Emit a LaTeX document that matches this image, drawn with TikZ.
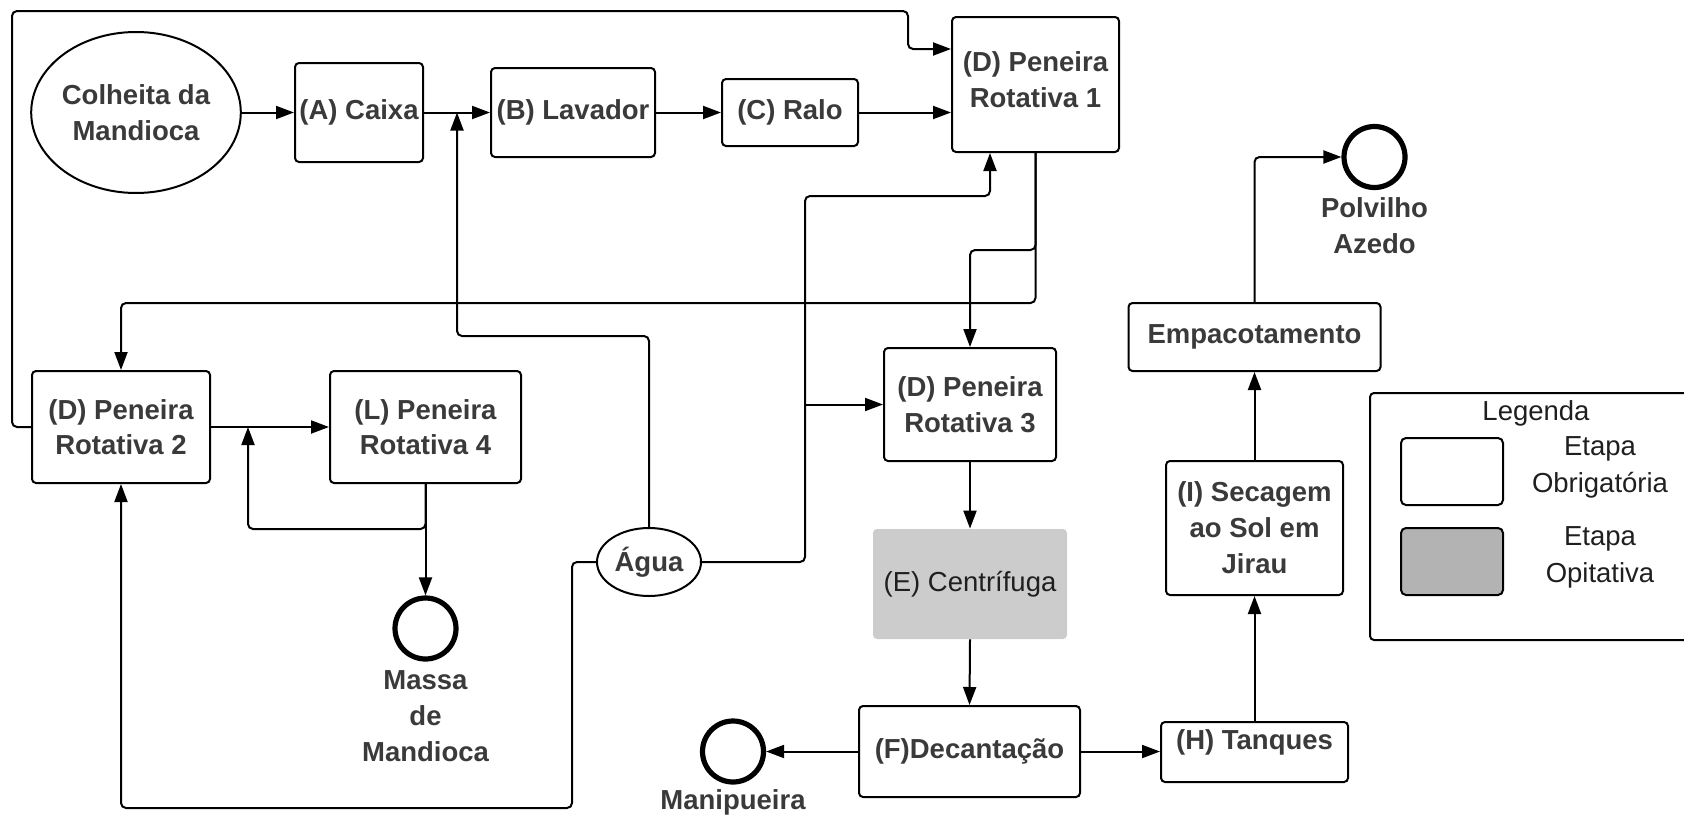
\documentclass[tikz,border=0pt]{standalone}
\usepackage{fontspec}
\setmainfont{Liberation Sans}
\usetikzlibrary{arrows.meta,shapes.geometric}
\definecolor{txt}{RGB}{58,58,58}
\definecolor{optfill}{RGB}{204,204,204}
\definecolor{leggray}{RGB}{179,179,179}
\begin{document}
\begin{tikzpicture}[x=0.5pt,y=-0.5pt,
  lbl/.style={font=\fontsize{13.75}{17.75}\selectfont\bfseries, text=txt, align=center, inner sep=0pt},
  reg/.style={font=\fontsize{13.75}{18.5}\selectfont, text=black!88, align=center, inner sep=0pt},
  stepbox/.style={draw=black, line width=1pt, rounded corners=2pt, fill=white, lbl},
  oval/.style={ellipse, draw=black, line width=1pt, fill=white, lbl},
  endc/.style={circle, draw=black, line width=2.6pt, minimum size=30.5pt, inner sep=0pt},
  flow/.style={draw=black, line width=1pt, rounded corners=2.5pt, -{Triangle[length=9pt,width=6.5pt]}},
]
\useasboundingbox (0,0) rectangle (1684,819);
\clip (0,0) rectangle (1684,819);

% ---- nodes ----
\node[oval, minimum width=104pt, minimum height=80.5pt] (colheita) at (136,112.5) {Colheita da\\Mandioca};
\node[stepbox, minimum width=64pt, minimum height=49.5pt] (caixa) at (359,112.5) {(A) Caixa};
\node[stepbox, minimum width=82pt, minimum height=44.5pt] (lavador) at (573,112.5) {(B) Lavador};
\node[stepbox, minimum width=68pt, minimum height=33.5pt] (ralo) at (790,112.5) {(C) Ralo};
\node[stepbox, minimum width=83.5pt, minimum height=67.5pt] (d1) at (1035.5,84.5) {};
\node[lbl] (d1t) at (1035.5,79.5) {(D) Peneira\\Rotativa 1};

\node[stepbox, minimum width=89pt, minimum height=56pt] (d2) at (121,427) {(D) Peneira\\Rotativa 2};
\node[stepbox, minimum width=95.5pt, minimum height=56pt] (l4) at (425.5,427) {(L) Peneira\\Rotativa 4};
\node[endc] (massa) at (425.5,628.5) {};
\node[lbl, font=\fontsize{13.75}{18}\selectfont\bfseries] (massat) at (425.5,716) {Massa\\de\\Mandioca};

\node[oval, minimum width=52pt, minimum height=34pt, inner sep=0pt] (agua) at (649,562) {Água};

\node[stepbox, minimum width=86pt, minimum height=56.5pt] (d3) at (970,404.5) {(D) Peneira\\Rotativa 3};
\node[rounded corners=2pt, fill=optfill, minimum width=97pt, minimum height=55pt, reg] (e) at (970,584) {(E) Centrífuga};
\node[stepbox, minimum width=110.5pt, minimum height=45.5pt] (f) at (969.5,751.5) {(F)Decantação};
\node[endc] (manip) at (733,751.5) {};
\node[lbl] (manipt) at (733,802) {Manipueira};

\node[stepbox, minimum width=93.5pt, minimum height=30pt] (h) at (1254.5,752) {};
\node[lbl] (ht) at (1254.5,742) {(H) Tanques};
\node[stepbox, minimum width=88.5pt, minimum height=67pt, font=\fontsize{13.75}{18}\selectfont\bfseries] (i) at (1254.5,528) {(I) Secagem\\ao Sol em\\Jirau};
\node[stepbox, minimum width=126pt, minimum height=34pt] (emp) at (1254.5,337) {Empacotamento};
\node[endc] (polv) at (1374.5,157) {};
\node[lbl] (polvt) at (1374.5,225.5) {Polvilho\\Azedo};

% ---- legend ----
\node[draw=black, line width=1pt, rounded corners=2pt, minimum width=165pt, minimum height=123.5pt, inner sep=0pt] (leg) at (1535,516.5) {};
\node[reg] (legt) at (1536,413) {Legenda};
\node[draw=black, line width=1pt, rounded corners=2.5pt, fill=white, minimum width=51pt, minimum height=33.5pt, inner sep=0pt] (lw) at (1452,471.5) {};
\node[draw=black, line width=1pt, rounded corners=2.5pt, fill=leggray, minimum width=51pt, minimum height=33.5pt, inner sep=0pt] (lg) at (1452,561.5) {};
\node[reg] (lwt) at (1600,467.5) {Etapa\\Obrigatória};
\node[reg] (lgt) at (1600,557.5) {Etapa\\Opitativa};

% ---- bend points ----
\coordinate (tl) at (12,11);
\coordinate (k1) at (908,49);
\coordinate (k2) at (121,303);
\coordinate (k3) at (970,250);
\coordinate (k4) at (457,336);
\coordinate (k5) at (805,196);
\coordinate (k6) at (990,196);
\coordinate (k7) at (805,404.5);
\coordinate (k8) at (572,808);
\coordinate (k9) at (248,529);

% ---- connectors ----
\draw[flow] (d2.west) -| (tl) -| (k1) -- (k1 -| d1.west);
\draw[flow] (colheita.east) -- (caixa.west);
\draw[flow] (caixa.east) -- (lavador.west);
\draw[flow] (lavador.east) -- (ralo.west);
\draw[flow] (ralo.east) -- (ralo.east -| d1.west);
\draw[flow] (d1.south) |- (k2) -- (d2.north);
\draw[flow] (d1.south) |- (k3) -- (d3.north);
\draw[flow] (agua.north) |- (k4) -- (k4 |- caixa.east);
\draw[flow] (agua.east) -| (k5) -- (k6) -- (k6 |- d1.south);
\draw[flow] (k7) -- (d3.west);
\draw[flow] (agua.west) -| (k8) -| (d2.south);
\draw[flow] (d2.east) -- (l4.west);
\draw[flow] (l4.south) |- (k9) -- (k9 |- d2.east);
\draw[flow] (l4.south) -- (massa.north);
\draw[flow] (d3.south) -- (e.north);
\draw[flow] (e.south) -- (f.north);
\draw[flow] (f.west) -- (manip.east);
\draw[flow] (f.east) -- (f.east -| h.west);
\draw[flow] (h.north) -- (i.south);
\draw[flow] (i.north) -- (emp.south);
\draw[flow] (emp.north) |- (polv.west);
\end{tikzpicture}
\end{document}
